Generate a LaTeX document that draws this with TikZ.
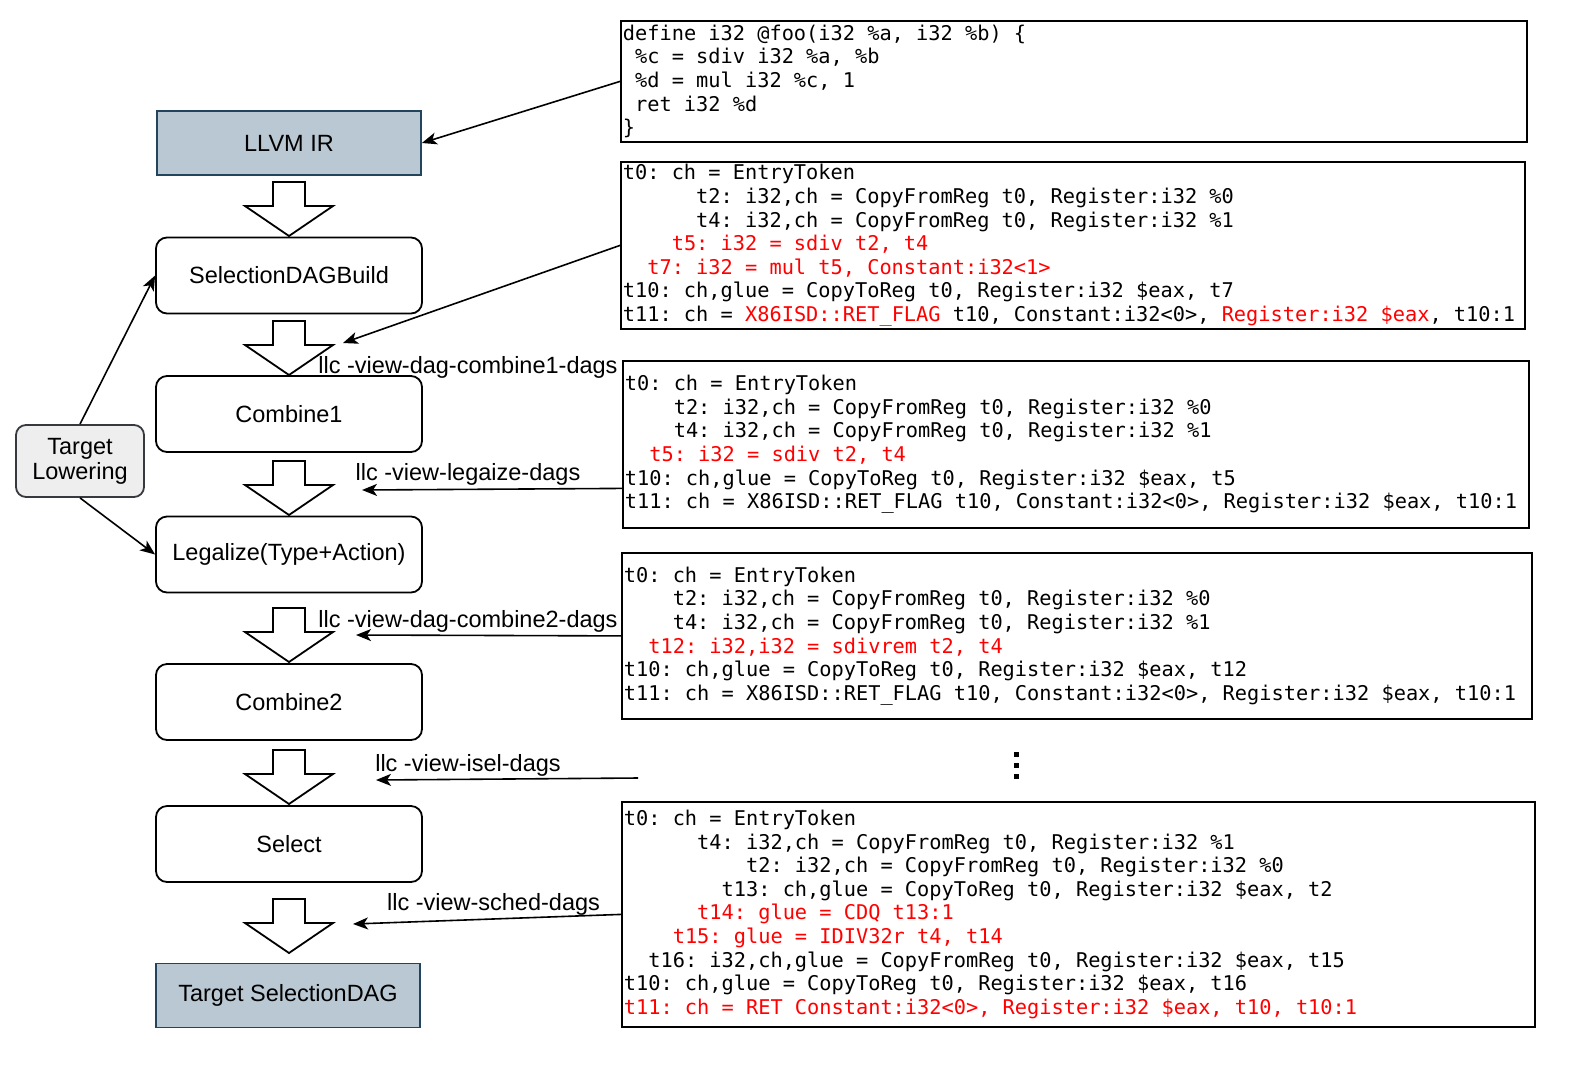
\documentclass[tikz,border=0pt]{standalone}
\usepackage{fontspec}
\setmainfont{Liberation Sans}
\newfontfamily\codefont{DejaVu Sans Mono}
\usetikzlibrary{arrows.meta}
\definecolor{irfill}{HTML}{BAC8D3}
\definecolor{irdraw}{HTML}{23445D}
\definecolor{tlfill}{HTML}{EEEEEE}
\definecolor{tldraw}{HTML}{36393D}
\definecolor{hl}{HTML}{FF0000}
\newcommand\hlt[1]{\textcolor{hl}{#1}}
\newcommand\codesetup{\codefont\fontsize{20.3}{23.6}\selectfont\spaceskip=12.22pt\relax\xspaceskip=12.22pt\relax}
\begin{document}
\begin{tikzpicture}[x=1pt,y=-1pt,
  stage/.style={draw, line width=1.8pt, rounded corners=11pt, minimum width=266pt, minimum height=76pt, inner sep=0pt, font=\fontsize{23.5}{27}\selectfont},
  endstage/.style={draw=irdraw, fill=irfill, line width=1.8pt, minimum width=264pt, minimum height=64pt, inner sep=0pt, font=\fontsize{23.5}{27}\selectfont},
  tlbox/.style={draw=tldraw, fill=tlfill, line width=1.8pt, rounded corners=10pt, minimum width=128pt, minimum height=72pt, inner sep=0pt, align=center, font=\fontsize{23.5}{25}\selectfont},
  codebox/.style={draw, line width=1.8pt, anchor=north west, align=flush left, inner xsep=2pt, inner ysep=0pt, font=\codesetup},
  conn/.style={-{Stealth[length=15pt,width=12pt,inset=4pt]}, line width=1.6pt},
  lbl/.style={inner sep=0pt, font=\fontsize{23.5}{27}\selectfont},
  blockarrow/.pic={\draw[line width=1.8pt, fill=white] (-16,0) -- (16,0) -- (16,24) -- (44,24) -- (0,54) -- (-44,24) -- (-16,24) -- cycle;}
]
\useasboundingbox (0,0) rectangle (1576,1072);

% left pipeline
\node[endstage] (llvm) at (289,143) {LLVM IR};
\node[stage] (sdb) at (289,275.5) {SelectionDAGBuild};
\node[stage] (comb1) at (289,414) {Combine1};
\node[stage] (legal) at (289,554.5) {Legalize(Type+Action)};
\node[stage] (comb2) at (289,702) {Combine2};
\node[stage] (sel) at (289,844) {Select};
\node[endstage] (tsd) at (288,995.5) {Target SelectionDAG};
\node[tlbox] (tl) at (80,461) {Target\\Lowering};

\pic at (289,182) {blockarrow};
\pic at (289,321) {blockarrow};
\pic at (289,461) {blockarrow};
\pic at (289,608) {blockarrow};
\pic at (289,750) {blockarrow};
\pic at (289,899) {blockarrow};

% code boxes
\node[codebox, minimum width=906pt, minimum height=121pt, text width=902pt] (ir) at (620,20) {%
define i32 @foo(i32 \%a, i32 \%b) \{\\
~\%c = sdiv i32 \%a, \%b\\
~\%d = mul i32 \%c, 1\\
~ret i32 \%d\\
\}};

\node[codebox, minimum width=904pt, minimum height=167pt, text width=900pt] (dag1) at (620,161) {%
t0: ch = EntryToken\\
~~~~~~t2: i32,ch = CopyFromReg t0, Register:i32 \%0\\
~~~~~~t4: i32,ch = CopyFromReg t0, Register:i32 \%1\\
\hlt{~~~~t5: i32 = sdiv t2, t4}\\
\hlt{~~t7: i32 = mul t5, Constant:i32<1>}\\
t10: ch,glue = CopyToReg t0, Register:i32 \$eax, t7\\
t11: ch = \hlt{X86ISD::RET\_FLAG} t10, Constant:i32<0>, \hlt{Register:i32 \$eax}, t10:1};

\node[codebox, minimum width=906pt, minimum height=167pt, text width=902pt] (dag2) at (622,360) {%
t0: ch = EntryToken\\
~~~~t2: i32,ch = CopyFromReg t0, Register:i32 \%0\\
~~~~t4: i32,ch = CopyFromReg t0, Register:i32 \%1\\
\hlt{~~t5: i32 = sdiv t2, t4}\\
t10: ch,glue = CopyToReg t0, Register:i32 \$eax, t5\\
t11: ch = X86ISD::RET\_FLAG t10, Constant:i32<0>, Register:i32 \$eax, t10:1};

\node[codebox, minimum width=910pt, minimum height=166pt, text width=906pt] (dag3) at (621,552) {%
t0: ch = EntryToken\\
~~~~t2: i32,ch = CopyFromReg t0, Register:i32 \%0\\
~~~~t4: i32,ch = CopyFromReg t0, Register:i32 \%1\\
\hlt{~~t12: i32,i32 = sdivrem t2, t4}\\
t10: ch,glue = CopyToReg t0, Register:i32 \$eax, t12\\
t11: ch = X86ISD::RET\_FLAG t10, Constant:i32<0>, Register:i32 \$eax, t10:1};

\node[codebox, minimum width=913pt, minimum height=225pt, text width=909pt] (dag4) at (621,801) {%
t0: ch = EntryToken\\
~~~~~~t4: i32,ch = CopyFromReg t0, Register:i32 \%1\\
~~~~~~~~~~t2: i32,ch = CopyFromReg t0, Register:i32 \%0\\
~~~~~~~~t13: ch,glue = CopyToReg t0, Register:i32 \$eax, t2\\
\hlt{~~~~~~t14: glue = CDQ t13:1}\\
\hlt{~~~~t15: glue = IDIV32r t4, t14}\\
~~t16: i32,ch,glue = CopyFromReg t0, Register:i32 \$eax, t15\\
t10: ch,glue = CopyToReg t0, Register:i32 \$eax, t16\\
\hlt{t11: ch = RET Constant:i32<0>, Register:i32 \$eax, t10, t10:1}};

% vertical dots
\fill (1013.5,751.5) rectangle +(5,5);
\fill (1013.5,762.5) rectangle +(5,5);
\fill (1013.5,774) rectangle +(5,5);

% free ends of connectors
\coordinate (t1) at (343,343);
\coordinate (t2) at (362,490);
\coordinate (t3) at (356,635);
\coordinate (t4s) at (638,778);
\coordinate (t4) at (376,780);
\coordinate (t5) at (353,924);

% connectors
\draw[conn] (ir.west) -- (llvm.east);
\draw[conn] (dag1.west) -- (t1);
\draw[conn] ([yshift=-44pt]dag2.west) -- (t2);
\draw[conn] (dag3.west) -- (t3);
\draw[conn] (t4s) -- (t4);
\draw[conn] (dag4.west) -- (t5);
\draw[conn] (tl.north) -- (sdb.west);
\draw[conn] (tl.south) -- (legal.west);

% labels
\node[lbl] (l1) at (468,367) {llc -view-dag-combine1-dags};
\node[lbl] (l2) at (468,474) {llc -view-legaize-dags};
\node[lbl] (l3) at (468,621) {llc -view-dag-combine2-dags};
\node[lbl] (l4) at (468,765) {llc -view-isel-dags};
\node[lbl] (l5) at (493.5,904) {llc -view-sched-dags};
\end{tikzpicture}
\end{document}
